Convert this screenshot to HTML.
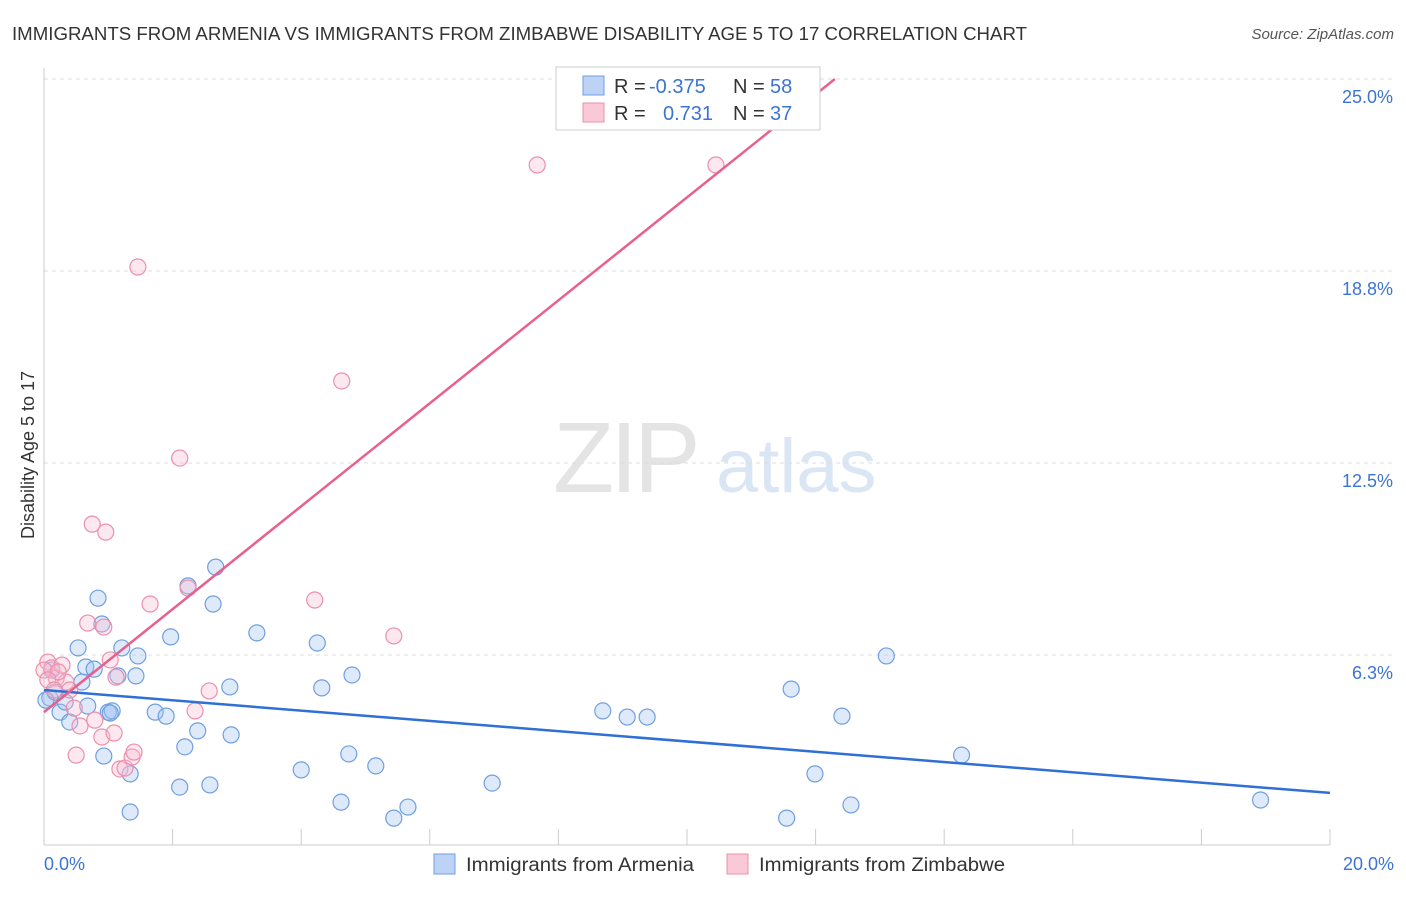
<!DOCTYPE html>
<html><head><meta charset="utf-8"><style>
body{margin:0;background:#fff;font-family:"Liberation Sans",sans-serif;}
svg text{font-family:"Liberation Sans",sans-serif;}
</style></head><body>
<svg id="chart" width="1406" height="892" xmlns="http://www.w3.org/2000/svg">
<text x="12" y="40" font-size="18" fill="#333" textLength="1015" lengthAdjust="spacingAndGlyphs">IMMIGRANTS FROM ARMENIA VS IMMIGRANTS FROM ZIMBABWE DISABILITY AGE 5 TO 17 CORRELATION CHART</text>
<text x="1394" y="39" font-size="15" fill="#555" font-style="italic" text-anchor="end">Source: ZipAtlas.com</text>
<g>
<text x="553" y="492" font-size="100" fill="#e4e4e4" font-family="Liberation Serif" letter-spacing="-4">ZIP</text>
<text x="716" y="492" font-size="76" fill="#dbe6f5">atlas</text>
</g>
<g id="grid"></g><g id="axes"></g><g id="marks"></g>
<text transform="translate(34,455) rotate(-90)" font-size="18" fill="#333" text-anchor="middle">Disability Age 5 to 17</text>
<g>
<rect x="556" y="67" width="264" height="63" fill="#fff" stroke="#ccc"/>
<rect x="583" y="76" width="21" height="19" fill="#bcd3f5" stroke="#6f9fe0"/>
<rect x="583" y="103" width="21" height="19" fill="#f9c9d7" stroke="#ec8fab"/>
<text x="614" y="93" font-size="20" fill="#333">R = <tspan x="649" fill="#3b74d1">-0.375</tspan></text>
<text x="733" y="93" font-size="20" fill="#333">N = <tspan x="770" fill="#3b74d1">58</tspan></text>
<text x="614" y="120" font-size="20" fill="#333">R = <tspan x="663" fill="#3b74d1">0.731</tspan></text>
<text x="733" y="120" font-size="20" fill="#333">N = <tspan x="770" fill="#3b74d1">37</tspan></text>
</g>
<g>
<rect x="434" y="854" width="21" height="20" fill="#bcd3f5" stroke="#6f9fe0"/>
<text x="466" y="871" font-size="19" fill="#333" textLength="228" lengthAdjust="spacingAndGlyphs">Immigrants from Armenia</text>
<rect x="727" y="854" width="21" height="20" fill="#f9c9d7" stroke="#ec8fab"/>
<text x="759" y="871" font-size="19" fill="#333" textLength="246" lengthAdjust="spacingAndGlyphs">Immigrants from Zimbabwe</text>
</g>
</svg>
<script>
const yTicks=[6.25,12.5,18.75,25];
const yTickLabels=["6.3%","12.5%","18.8%","25.0%"];
const xTickLabels=["0.0%","20.0%"];
const blueX=[0.12,0.09,0.17,0.25,0.40,0.53,0.59,0.65,0.68,0.78,0.84,0.90,0.93,1.00,1.06,1.15,1.21,1.34,1.34,1.43,1.46,1.73,1.90,1.97,2.11,2.19,2.24,2.39,2.58,2.63,2.67,2.89,2.91,3.31,4.00,4.25,4.32,4.62,4.74,4.79,5.16,5.44,5.66,6.97,8.69,9.07,9.38,11.55,11.62,11.99,12.41,12.55,13.10,14.27,18.92,0.33,0.03,1.03];
const blueY=[5.76,4.85,5.04,4.39,4.07,6.48,5.37,5.86,4.59,5.79,8.10,7.26,2.96,4.39,4.43,5.57,6.48,2.38,1.14,5.57,6.22,4.39,4.26,6.84,1.95,3.26,8.50,3.78,2.02,7.91,9.11,5.21,3.65,6.97,2.51,6.64,5.18,1.46,3.03,5.60,2.64,0.94,1.30,2.08,4.43,4.23,4.23,0.94,5.14,2.38,4.26,1.37,6.22,2.99,1.53,4.72,4.78,4.36];
const pinkX=[0.06,0.12,0.19,0.28,0.34,0.40,0.47,0.50,0.56,0.68,0.75,0.79,0.90,0.93,0.96,1.03,1.09,1.12,1.18,1.26,1.37,1.40,1.46,1.65,2.11,2.24,2.35,2.57,4.21,4.63,5.44,7.67,10.45,0.00,0.22,0.06,0.16];
const pinkY=[6.02,5.83,5.50,5.92,5.37,5.11,4.52,2.99,3.94,7.29,10.51,4.13,3.58,7.16,10.25,6.09,3.71,5.53,2.54,2.57,2.93,3.09,18.88,7.91,12.66,8.43,4.43,5.08,8.04,15.17,6.87,22.20,22.20,5.76,5.70,5.44,5.11];
const blueTrendX=[0,20];const blueTrendY=[5.11,1.76];
const pinkTrendX=[0,12.3];const pinkTrendY=[4.39,25.0];

const NS="http://www.w3.org/2000/svg";
const X0=44,X1=1330,Y0=847,PPY=192/6.25;
const sx=v=>X0+(v/20)*(X1-X0);
const sy=v=>Y0-v*PPY;
function mk(tag,attrs,parent){const e=document.createElementNS(NS,tag);for(const k in attrs)e.setAttribute(k,attrs[k]);parent.appendChild(e);return e;}
const grid=document.getElementById('grid'),axes=document.getElementById('axes'),marks=document.getElementById('marks');
yTicks.forEach((t,i)=>{
 const l=mk('line',{x1:X0,x2:X1+62,y1:sy(t),y2:sy(t),stroke:'#ddd','stroke-dasharray':'4,4'},grid);
 
 
 const tx=mk('text',{x:1393,y:sy(t)+24,'font-size':18,fill:'#3b74d1','text-anchor':'end'},axes);
 tx.textContent=yTickLabels[i];
 
 
});
const ya=mk('line',{x1:X0,x2:X0,y1:68,y2:845,stroke:'#ccc'},axes);


const xa=mk('line',{x1:X0,x2:X1,y1:845,y2:845,stroke:'#ccc'},axes);


for(let i=0;i<=10;i++){
 const tk=mk('line',{x1:sx(i*2),x2:sx(i*2),y1:829,y2:845,stroke:'#ccc'},axes);
 
 
}
[[0,'start',44],[20,'end',1394]].forEach((d,i)=>{
 const tx=mk('text',{x:d[2],y:870,'font-size':18,fill:'#3b74d1','text-anchor':d[1]},axes);
 tx.textContent=xTickLabels[i];
 
 
});
blueX.forEach((x,i)=>{
 const c=mk('circle',{cx:sx(x),cy:sy(blueY[i]),r:8,fill:'rgba(160,195,240,0.35)',stroke:'#6f9fe0','stroke-width':1.2},marks);
 
 
});
pinkX.forEach((x,i)=>{
 const c=mk('circle',{cx:sx(x),cy:sy(pinkY[i]),r:8,fill:'rgba(248,190,210,0.35)',stroke:'#ec8fab','stroke-width':1.2},marks);
 
 
});
const bt=mk('line',{x1:sx(blueTrendX[0]),y1:sy(blueTrendY[0]),x2:sx(blueTrendX[1]),y2:sy(blueTrendY[1]),stroke:'#2f6fd6','stroke-width':2.5},marks);


const pt=mk('line',{x1:sx(pinkTrendX[0]),y1:sy(pinkTrendY[0]),x2:sx(pinkTrendX[1]),y2:sy(pinkTrendY[1]),stroke:'#e8608e','stroke-width':2.5},marks);


</script>
</body></html>
